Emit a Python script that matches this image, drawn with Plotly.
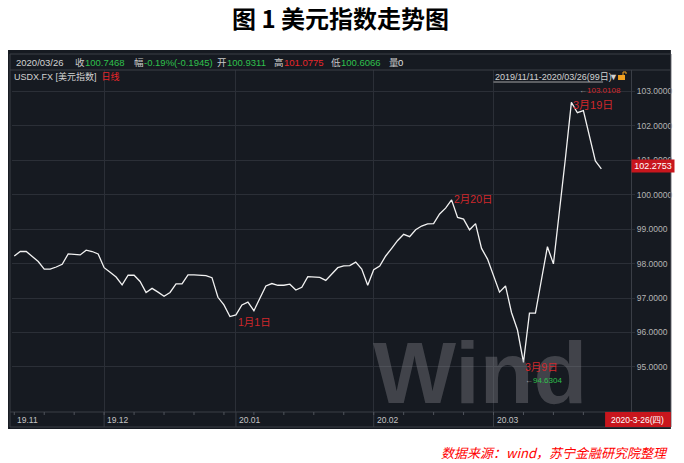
import pandas as pd
import plotly.graph_objects as go

# ---------------- data ----------------
dates = [d.strftime("%Y-%m-%d") for d in pd.bdate_range("2019-11-11", "2020-03-26")]
usdx = [
    98.22, 98.35, 98.35, 98.20, 98.06, 97.84, 97.84, 97.90, 97.98, 98.28,
    98.27, 98.25, 98.39, 98.35, 98.28, 97.88, 97.75, 97.61, 97.38, 97.66,
    97.66, 97.48, 97.16, 97.28, 97.17, 97.05, 97.16, 97.41, 97.41, 97.67,
    97.67, 97.67, 97.65, 97.59, 97.02, 96.80, 96.46, 96.51, 96.80, 96.88,
    96.63, 96.99, 97.35, 97.42, 97.37, 97.37, 97.40, 97.23, 97.31, 97.62,
    97.60, 97.60, 97.51, 97.69, 97.88, 97.93, 97.94, 98.04, 97.84, 97.37,
    97.82, 97.93, 98.22, 98.44, 98.67, 98.85, 98.78, 98.98, 99.09, 99.15,
    99.16, 99.44, 99.61, 99.85, 99.34, 99.29, 98.98, 99.16, 98.44, 98.13,
    97.62, 97.17, 97.35, 96.58, 96.07, 95.13, 96.56, 96.56, 97.53, 98.49,
    97.99, 99.45, 101.05, 102.68, 102.38, 102.44, 101.72, 100.98, 100.75,
]
month_ticks = ["2019-11-11", "2019-12-02", "2020-01-01", "2020-02-03", "2020-03-02"]
month_labels = ["19.11", "19.12", "20.01", "20.02", "20.03"]
y_ticks = [95, 96, 97, 98, 99, 100, 101, 102, 103]
y_tick_labels = ["%.4f" % v for v in y_ticks]

event_dates = ["2020-01-01", "2020-02-20", "2020-03-09", "2020-03-19"]
event_labels = ["1月1日", "2月20日", "3月9日", "3月19日"]
low_value, low_label = 94.6304, "94.6304"
high_value, high_label = 103.0108, "103.0108"
last_label = "102.2753"
header_items = [
    ("2020/03/26", "#d2d2d2"), ("收", "#c8c8c8"), ("100.7468", "#2fc04c"),
    ("幅", "#c8c8c8"), ("-0.19%(-0.1945)", "#2fc04c"), ("开", "#c8c8c8"),
    ("100.9311", "#2fc04c"), ("高", "#c8c8c8"), ("101.0775", "#e8262a"),
    ("低", "#c8c8c8"), ("100.6066", "#2fc04c"), ("量", "#c8c8c8"), ("0", "#e0e0e0"),
]
header_x = [14, 73, 83, 132, 142, 216, 226, 273, 283, 330, 340, 388, 397]

# ---------------- layout helpers ----------------
W, H = 684, 463
L, R, T, B = 12, 633, 70, 412
BG = "#161a21"
GRID = "#2b2f37"
BORDER = "#3a3e46"
RED = "#d0282c"
FONT = "Liberation Sans, Noto Sans CJK SC, sans-serif"


def px(x):
    return (x - L) / (R - L)


def py(y):
    return (B - y) / (B - T)


fig = go.Figure()
fig.add_trace(go.Scatter(x=dates, y=usdx, mode="lines",
                         line=dict(color="#f2f2f2", width=1.3),
                         hoverinfo="skip", showlegend=False))

shapes = []
shapes.append(dict(type="rect", xref="paper", yref="paper", x0=px(8), x1=px(673),
                   y0=py(429), y1=py(50), fillcolor=BG, line=dict(width=0), layer="below"))
shapes.append(dict(type="rect", xref="paper", yref="paper", x0=px(10), x1=px(673),
                   y0=py(427), y1=py(54), line=dict(color=BORDER, width=1), layer="above"))
shapes.append(dict(type="line", xref="paper", yref="paper", x0=px(10), x1=px(673),
                   y0=py(70), y1=py(70), line=dict(color=BORDER, width=1)))
shapes.append(dict(type="line", xref="paper", yref="paper", x0=px(10), x1=px(673),
                   y0=py(412), y1=py(412), line=dict(color=BORDER, width=1)))
for d in month_ticks[1:]:
    shapes.append(dict(type="line", xref="x", yref="paper", x0=d, x1=d,
                       y0=py(427), y1=py(412), line=dict(color=BORDER, width=1)))
for d in dates:
    if pd.Timestamp(d).weekday() == 0:
        shapes.append(dict(type="line", xref="x", yref="paper", x0=d, x1=d,
                           y0=py(415), y1=py(412), line=dict(color="#50545c", width=1)))
shapes.append(dict(type="line", xref="paper", yref="paper", x0=px(495), x1=px(605),
                   y0=py(82), y1=py(82), line=dict(color="#c8c8c8", width=0.8)))
shapes.append(dict(type="rect", xref="paper", yref="paper", x0=px(620), x1=px(627),
                   y0=py(80), y1=py(75), fillcolor="#f0a020", line=dict(width=0)))
shapes.append(dict(type="path", xref="paper", yref="paper",
                   path="M %f %f L %f %f L %f %f L %f %f" % (px(625), py(75), px(625), py(72),
                                                              px(628), py(72), px(628), py(74)),
                   line=dict(color="#f0a020", width=1)))
shapes.append(dict(type="rect", xref="paper", yref="paper", x0=px(607), x1=px(673),
                   y0=py(427), y1=py(412), fillcolor="#c8161d", line=dict(width=0)))

ann = []
ann.append(dict(text="<b>图 1 美元指数走势图</b>", xref="paper", yref="paper", x=px(342), y=py(18),
                showarrow=False, font=dict(family="Noto Sans CJK SC", size=24, color="#000000"),
                xanchor="center", yanchor="middle"))
ann.append(dict(text="<i>数据来源：wind，苏宁金融研究院整理</i>", xref="paper", yref="paper",
                x=px(672), y=py(452), showarrow=False,
                font=dict(family="Noto Sans CJK SC", size=13, color="#ff0000"),
                xanchor="right", yanchor="middle"))
ann.append(dict(text="<b>Wind</b>", xref="paper", yref="paper", x=px(482), y=py(372),
                showarrow=False, font=dict(family="Liberation Sans", size=88,
                                           color="rgba(140,142,148,0.36)"),
                xanchor="center", yanchor="middle"))
for (t, c), xx in zip(header_items, header_x):
    ann.append(dict(text=t, xref="paper", yref="paper", x=px(xx), y=py(62.5), showarrow=False,
                    font=dict(family=FONT, size=9.5, color=c), xanchor="left", yanchor="middle"))
ann.append(dict(text="USDX.FX [美元指数]  <span style='color:#e8262a'>日线</span>", xref="paper",
                yref="paper", x=px(12), y=py(76.5), showarrow=False,
                font=dict(family=FONT, size=9, color="#d2d2d2"), xanchor="left", yanchor="middle"))
ann.append(dict(text="2019/11/11-2020/03/26(99日)", xref="paper", yref="paper", x=px(495),
                y=py(76.5), showarrow=False, font=dict(family=FONT, size=9, color="#d2d2d2"),
                xanchor="left", yanchor="middle"))
ann.append(dict(text="▼", xref="paper", yref="paper", x=px(609), y=py(76.5), showarrow=False,
                font=dict(family=FONT, size=9, color="#d2d2d2"), xanchor="left", yanchor="middle"))
for d, t in zip(month_ticks, month_labels):
    ann.append(dict(text=t, xref="x", yref="paper", x=d, y=py(419.5), showarrow=False,
                    xshift=1, font=dict(family=FONT, size=8.5, color="#c4c4c4"),
                    xanchor="left", yanchor="middle"))
ann.append(dict(text="2020-3-26(四)", xref="paper", yref="paper", x=px(640), y=py(419.5),
                showarrow=False, font=dict(family=FONT, size=8.5, color="#ffffff"),
                xanchor="center", yanchor="middle"))
event_y = {"2020-01-01": (322, 10.5), "2020-02-20": (199, 10.5),
           "2020-03-09": (367, 10.5), "2020-03-19": (104.5, 11)}
for d, t in zip(event_dates, event_labels):
    yy, fs = event_y[d]
    ann.append(dict(text=t, xref="x", yref="paper", x=d, y=py(yy), showarrow=False,
                    font=dict(family=FONT, size=fs, color=RED), xanchor="left", yanchor="middle"))
ann.append(dict(text="<span style='color:#a0a0a0'>←</span>" + low_label, xref="x", yref="y",
                x="2020-03-09", y=low_value, yshift=-1, showarrow=False,
                font=dict(family=FONT, size=8, color="#2fc04c"), xanchor="left", yanchor="middle"))
ann.append(dict(text="<span style='color:#a0a0a0'>←</span>" + high_label, xref="x", yref="y",
                x="2020-03-20", y=high_value, showarrow=False,
                font=dict(family=FONT, size=8, color=RED), xanchor="left", yanchor="middle"))
ann.append(dict(text=last_label, xref="paper", yref="y", x=1, y=usdx[-1], yshift=3,
                showarrow=False, font=dict(family=FONT, size=9, color="#ffffff"),
                bgcolor="#c8161d", xanchor="left", yanchor="middle", borderpad=1,
                width=40))

fig.update_layout(
    width=W, height=H,
    margin=dict(l=L, r=W - R, t=T, b=H - B, pad=0),
    paper_bgcolor="#ffffff", plot_bgcolor=BG,
    shapes=shapes, annotations=ann, showlegend=False,
    xaxis=dict(type="category", range=[-0.38, 102.95], tickvals=month_ticks[1:],
               showticklabels=False, showgrid=True, gridcolor=GRID, gridwidth=1,
               zeroline=False, showline=False, ticks="", fixedrange=True),
    yaxis=dict(side="right", range=[93.69, 103.62], tickvals=y_ticks, ticktext=y_tick_labels,
               showgrid=True, gridcolor=GRID, gridwidth=1, zeroline=False,
               showline=True, linecolor=BORDER, linewidth=1,
               ticks="outside", ticklen=3, tickcolor=GRID,
               tickfont=dict(family=FONT, size=8.5, color="#b4b4b4"), fixedrange=True),
)

fig.write_html("out.html", config={"displayModeBar": False},
               post_script="document.body.style.margin='0';document.body.style.overflow='hidden';")
